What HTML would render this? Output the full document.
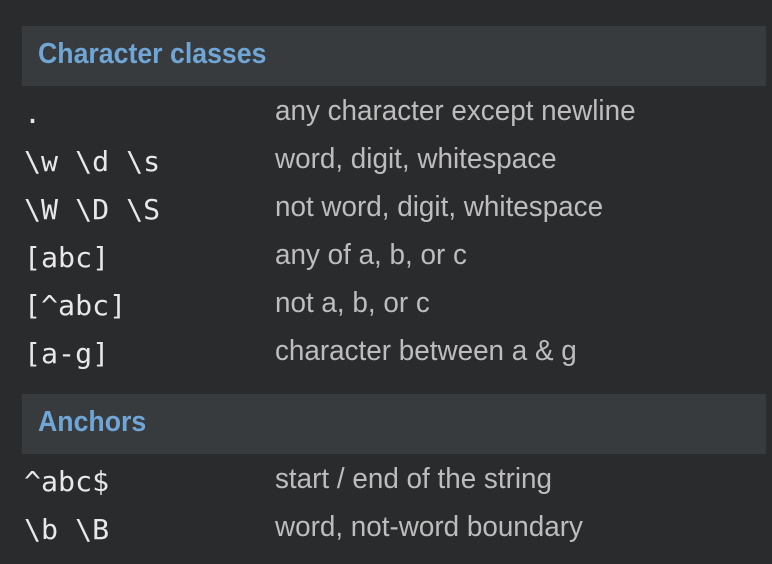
<!DOCTYPE html>
<html><head><style>
body{margin:0;width:772px;height:564px;background:#2a2b2d;overflow:hidden;position:relative}
.bar{position:absolute;left:22px;width:744px;height:60px;background:#383b3e}
.h{position:absolute;left:38px;font:bold 29px "Liberation Sans Narrow","Liberation Sans",sans-serif;color:#6fa6d6;transform-origin:0 0;transform:scaleX(.92);white-space:nowrap}
.m{position:absolute;left:24px;font:28px "DejaVu Sans Mono","Liberation Mono",monospace;color:#e8e8e8;white-space:pre;transform-origin:0 0;transform:scaleX(1.01)}
.d{position:absolute;left:275px;font:29px "Liberation Sans Narrow","Liberation Sans",sans-serif;color:#bdbdbd;transform-origin:0 0;transform:scaleX(.96);white-space:nowrap}
</style></head><body>
<div class="bar" style="top:26px"></div>
<div class="h" style="top:38px">Character classes</div>
<div class="m" style="top:97px">.</div><div class="d" style="top:95px">any character except newline</div>
<div class="m" style="top:145px">\w \d \s</div><div class="d" style="top:143px">word, digit, whitespace</div>
<div class="m" style="top:193px">\W \D \S</div><div class="d" style="top:191px">not word, digit, whitespace</div>
<div class="m" style="top:241px">[abc]</div><div class="d" style="top:239px">any of a, b, or c</div>
<div class="m" style="top:289px">[^abc]</div><div class="d" style="top:287px">not a, b, or c</div>
<div class="m" style="top:337px">[a-g]</div><div class="d" style="top:335px">character between a &amp; g</div>
<div class="bar" style="top:394px"></div>
<div class="h" style="top:406px">Anchors</div>
<div class="m" style="top:465px">^abc$</div><div class="d" style="top:463px">start / end of the string</div>
<div class="m" style="top:513px">\b \B</div><div class="d" style="top:511px">word, not-word boundary</div>
</body></html>
